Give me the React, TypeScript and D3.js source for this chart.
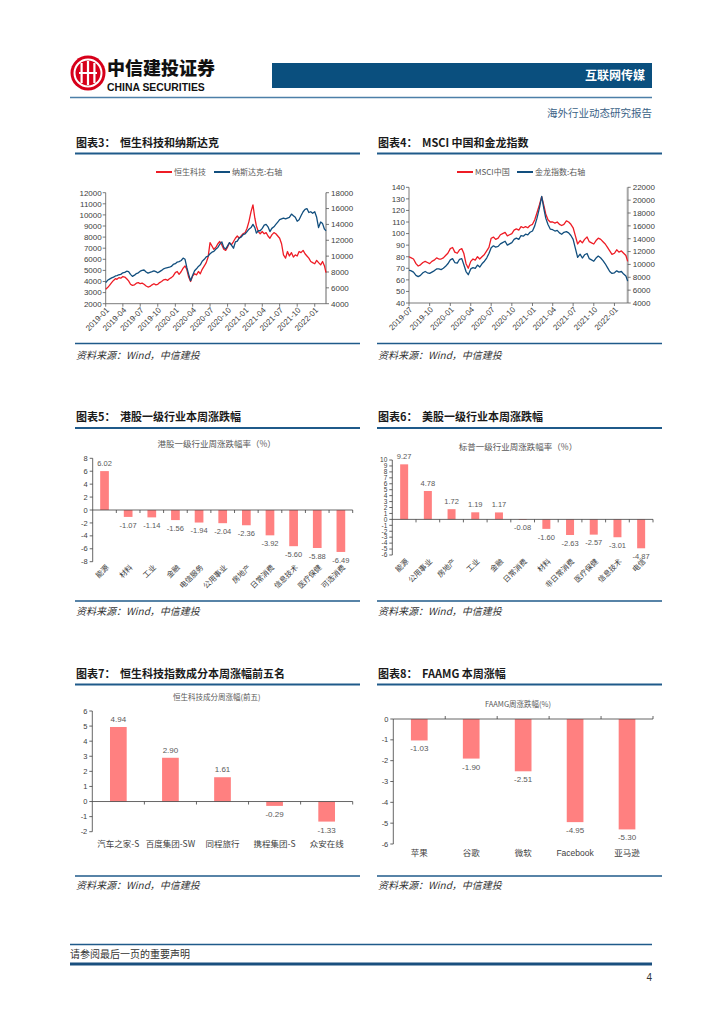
import React from "react";
import * as d3 from "d3";

const FONT = '"Noto Sans CJK SC", "Noto Sans", sans-serif';
const LATIN = '"Liberation Sans", Arial, sans-serif';
const RED = "#EE1C25";
const BLUE = "#124F7E";
const BAR = "#FF8080";
const RULE = "#1F5A8A";

// ---------- Chart 3: 恒生科技 & 纳斯达克 (3 samples per month: 1st, 11th, 21st) ----------
const c3Start: [number, number] = [2019, 0];
const hstechValues = [
  3300, 3450, 3650, 3900, 4100, 4250, 4200, 4350, 4300, 4450, 4400, 4250,
  4050, 3750, 3650, 3700, 3850, 3900, 3800, 3850, 3750, 3600, 3500, 3550,
  3700, 3800, 3700, 3750, 3900, 4000, 4150, 4200, 4100, 4250, 4350, 4500,
  4800, 4900, 4650, 4900, 5200, 5400, 5100, 4400, 4000, 4500, 4700, 4600,
  4900, 4700, 5100, 5400, 5700, 6200, 7500, 7200, 6900, 7100, 7400, 7600,
  7300, 6900, 6800, 7100, 7500, 7300, 7600, 7900, 8100, 7900, 8100, 8300,
  8400, 8800, 9400, 10300, 10900, 9700, 9000, 8500, 8300, 8500, 8300, 8400,
  8100, 7900, 8200, 8400, 8300, 8100, 7900, 7400, 6400, 6100, 6700, 6300,
  6600, 6200, 6400, 6300, 6700, 6600, 6800, 6500, 6300, 6100, 5800, 5700,
  5600, 5900, 5700, 5500, 5800, 5400, 4800,
];
const nasdaqValues = [
  6650, 6950, 7100, 7250, 7350, 7500, 7550, 7650, 7700, 7900, 7950, 8100,
  8050, 7700, 7450, 7600, 7800, 7900, 8100, 8200, 8250, 8000, 7850, 7950,
  8050, 8150, 8050, 7900, 8050, 8200, 8400, 8500, 8550, 8600, 8700, 8950,
  9050, 9250, 9300, 9450, 9750, 9600, 8600, 7700, 6900, 7600, 8150, 8400,
  8700, 8900, 9350, 9600, 9900, 10000, 10300, 10500, 10600, 10900, 11100, 11500,
  11800, 11100, 10900, 11300, 11700, 11400, 11000, 11800, 11900, 12300, 12400, 12700,
  12800, 13100, 13400, 13600, 14000, 13600, 12900, 13200, 13200, 13500, 13900, 14000,
  13700, 13100, 13500, 13700, 14000, 14300, 14600, 14700, 14800, 14700, 14800, 14900,
  15300, 15100, 14900, 14400, 14600, 15100, 15600, 15900, 16000, 15500, 15600, 15400,
  15600, 14900, 13600, 14300, 14100, 13400, 13200,
];
const c3XTicks = ["2019-01", "2019-04", "2019-07", "2019-10", "2020-01", "2020-04", "2020-07", "2020-10", "2021-01", "2021-04", "2021-07", "2021-10", "2022-01"];
const c3LeftTicks = [2000, 3000, 4000, 5000, 6000, 7000, 8000, 9000, 10000, 11000, 12000];
const c3RightTicks = [4000, 6000, 8000, 10000, 12000, 14000, 16000, 18000];

// ---------- Chart 4: MSCI中国 & 金龙指数 ----------
const c4Start: [number, number] = [2019, 6];
const msciValues = [
  80, 79, 78, 74, 72, 73, 75, 76, 75, 74, 76, 77,
  79, 78, 78, 79, 81, 83, 87, 88, 84, 83, 86, 87,
  83, 74, 70, 76, 78, 77, 80, 78, 80, 82, 85, 88,
  96, 97, 95, 96, 99, 100, 101, 98, 99, 100, 103, 104,
  103, 106, 105, 106, 105, 107, 108, 112, 118, 125, 132, 124,
  117, 112, 110, 110, 109, 110, 108, 107, 108, 111, 110, 108,
  105, 98, 91, 94, 92, 95, 97, 93, 92, 91, 94, 96,
  95, 93, 91, 88, 85, 82, 83, 86, 84, 85, 83, 81, 76,
];
const goldenDragonValues = [
  9100, 9000, 8800, 8300, 8100, 8300, 8700, 8900, 8700, 8600, 8800, 9000,
  9300, 9300, 9200, 9400, 9700, 10100, 10700, 10900, 10300, 10200, 10800, 10900,
  10000, 8900, 8400, 9300, 9500, 9400, 9900, 9600, 10100, 10500, 11000, 11700,
  12600, 12900, 12700, 12800, 13200, 13400, 13600, 13000, 13200, 13400, 13900, 14100,
  13900, 14500, 14400, 14700, 14600, 15000, 15200, 16000, 17200, 18800, 20600, 18600,
  17200, 16200, 15500, 15400, 15200, 15300, 14900, 14700, 15000, 15100, 14900, 14500,
  13900, 12500, 11100, 11600, 11000, 11500, 11700, 10900, 10700, 10500, 11000, 11300,
  11000, 10600, 10100, 9500, 8900, 8600, 8700, 9000, 8800, 8900, 8500, 8200, 7400,
];
const c4XTicks = ["2019-07", "2019-10", "2020-01", "2020-04", "2020-07", "2020-10", "2021-01", "2021-04", "2021-07", "2021-10", "2022-01"];
const c4LeftTicks = [40, 50, 60, 70, 80, 90, 100, 110, 120, 130, 140];
const c4RightTicks = [4000, 6000, 8000, 10000, 12000, 14000, 16000, 18000, 20000, 22000];

// ---------- Chart 5: 港股一级行业 ----------
const c5Categories = ["能源", "材料", "工业", "金融", "电信服务", "公用事业", "房地产", "日常消费", "信息技术", "医疗保健", "可选消费"];
const c5Values = [6.02, -1.07, -1.14, -1.56, -1.94, -2.04, -2.36, -3.92, -5.6, -5.88, -6.49];
const c5Ticks = [-8, -6, -4, -2, 0, 2, 4, 6, 8];

// ---------- Chart 6: 美股一级行业 ----------
const c6Categories = ["能源", "公用事业", "房地产", "工业", "金融", "日常消费", "材料", "非日常消费", "医疗保健", "信息技术", "电信"];
const c6Values = [9.27, 4.78, 1.72, 1.19, 1.17, -0.08, -1.6, -2.63, -2.57, -3.01, -4.87];
const c6Ticks = [-6, -5, -4, -3, -2, -1, 0, 1, 2, 3, 4, 5, 6, 7, 8, 9, 10];

// ---------- Chart 7: 恒生科技成分前五 ----------
const c7Categories = ["汽车之家-S", "百度集团-SW", "同程旅行", "携程集团-S", "众安在线"];
const c7Values = [4.94, 2.9, 1.61, -0.29, -1.33];
const c7Ticks = [-2, -1, 0, 1, 2, 3, 4, 5, 6];

// ---------- Chart 8: FAAMG ----------
const c8Categories = ["苹果", "谷歌", "微软", "Facebook", "亚马逊"];
const c8Values = [-1.03, -1.9, -2.51, -4.95, -5.3];
const c8Ticks = [-6, -5, -4, -3, -2, -1, 0];

const parseMonth = d3.timeParse("%Y-%m");

function sampleDates(start: [number, number], n: number): Date[] {
  const days = [1, 11, 21];
  const out: Date[] = [];
  for (let i = 0; i < n; i++) out.push(new Date(start[0], start[1] + Math.floor(i / 3), days[i % 3]));
  return out;
}

type LineProps = {
  x0: number; x1: number; y0: number; y1: number;
  start: [number, number]; end: string;
  s1: number[]; s2: number[];
  leftDomain: [number, number]; leftTicks: number[];
  rightDomain: [number, number]; rightTicks: number[];
  xTicks: string[];
  legend: [string, string];
  legendX: [number, number];
  legendY: number;
  rightAxisColor: string; rightAxisWidth: number;
};

function LineChart(p: LineProps) {
  const dates = sampleDates(p.start, p.s1.length);
  const x = d3.scaleTime().domain([new Date(p.start[0], p.start[1], 1), parseMonth(p.end) as Date]).range([p.x0, p.x1]);
  const yl = d3.scaleLinear().domain(p.leftDomain).range([p.y1, p.y0]);
  const yr = d3.scaleLinear().domain(p.rightDomain).range([p.y1, p.y0]);
  const l1 = d3.line<number>().x((_, i) => x(dates[i])).y((d) => yl(d));
  const l2 = d3.line<number>().x((_, i) => x(dates[i])).y((d) => yr(d));
  const fs = 8;
  return (
    <g fontFamily={LATIN} fontSize={fs} fill="#404040">
      <line x1={p.legendX[0]} x2={p.legendX[0] + 16} y1={p.legendY} y2={p.legendY} stroke={RED} strokeWidth={2} />
      <text x={p.legendX[0] + 18} y={p.legendY + 3} fontFamily={FONT} fill="#595959" fontSize={8}>{p.legend[0]}</text>
      <line x1={p.legendX[1]} x2={p.legendX[1] + 16} y1={p.legendY} y2={p.legendY} stroke={BLUE} strokeWidth={2} />
      <text x={p.legendX[1] + 18} y={p.legendY + 3} fontFamily={FONT} fill="#595959" fontSize={8}>{p.legend[1]}</text>
      <line x1={p.x0} x2={p.x0} y1={p.y0} y2={p.y1} stroke="#595959" strokeWidth={0.8} />
      <line x1={p.x1} x2={p.x1} y1={p.y0} y2={p.y1} stroke={p.rightAxisColor} strokeWidth={p.rightAxisWidth} />
      <line x1={p.x0} x2={p.x1} y1={p.y1} y2={p.y1} stroke="#595959" strokeWidth={0.8} />
      {p.leftTicks.map((t) => (
        <g key={"l" + t}>
          <line x1={p.x0 - 3} x2={p.x0} y1={yl(t)} y2={yl(t)} stroke="#595959" strokeWidth={0.8} />
          <text x={p.x0 - 4} y={yl(t)} dy="0.35em" textAnchor="end">{t}</text>
        </g>
      ))}
      {p.rightTicks.map((t) => (
        <g key={"r" + t}>
          <line x1={p.x1} x2={p.x1 + 3} y1={yr(t)} y2={yr(t)} stroke="#595959" strokeWidth={0.8} />
          <text x={p.x1 + 5} y={yr(t)} dy="0.35em" textAnchor="start">{t}</text>
        </g>
      ))}
      {p.xTicks.map((t) => {
        const xx = x(parseMonth(t) as Date);
        return (
          <g key={"x" + t}>
            <line x1={xx} x2={xx} y1={p.y1} y2={p.y1 + 3} stroke="#595959" strokeWidth={0.8} />
            <text transform={`translate(${xx + 2},${p.y1 + 5}) rotate(-45)`} textAnchor="end" dy="0.35em">{t}</text>
          </g>
        );
      })}
      <path d={l1(p.s1) || ""} fill="none" stroke={RED} strokeWidth={1.3} strokeLinejoin="round" />
      <path d={l2(p.s2) || ""} fill="none" stroke={BLUE} strokeWidth={1.3} strokeLinejoin="round" />
    </g>
  );
}

type BarProps = {
  x0: number; x1: number; y0: number; y1: number;
  domain: [number, number]; ticks: number[];
  cats: string[]; vals: number[];
  barW: number; tickFs: number; valueFs: number;
  rotated: boolean; catY: number;
  title: string; titleX: number; titleY: number; titleFs: number;
  tickDir: number;
};

function BarChart(p: BarProps) {
  const y = d3.scaleLinear().domain(p.domain).range([p.y1, p.y0]);
  const x = d3.scaleBand<string>().domain(p.cats).range([p.x0, p.x1]).padding(0);
  const bw = x.bandwidth();
  const zero = y(0);
  return (
    <g fontFamily={LATIN} fill="#404040">
      <text x={p.titleX} y={p.titleY} textAnchor="middle" fontFamily={FONT} fontSize={p.titleFs} fill="#595959">{p.title}</text>
      {p.cats.map((c, i) => {
        const v = p.vals[i];
        const cx = (x(c) as number) + bw / 2;
        const top = Math.min(y(v), zero);
        const h = Math.abs(y(v) - zero);
        return (
          <g key={c}>
            <rect x={cx - p.barW / 2} y={top} width={p.barW} height={Math.max(h, 0.6)} fill={BAR} />
            <text x={cx} y={v >= 0 ? y(v) - 5 : y(v) + 5} dy={v >= 0 ? "0" : "0.75em"} textAnchor="middle" fontSize={p.valueFs} fill="#595959">
              {v.toFixed(2)}
            </text>
            {p.rotated ? (
              <text transform={`translate(${cx + 3},${p.catY}) rotate(-45)`} textAnchor="end" dy="0.35em" fontFamily={FONT} fontSize={7.5} fill="#404040">{c}</text>
            ) : (
              <text x={cx} y={p.catY} textAnchor="middle" fontFamily={c === "Facebook" ? LATIN : FONT} fontSize={8.5} fill="#404040">{c}</text>
            )}
          </g>
        );
      })}
      <line x1={p.x0} x2={p.x0} y1={p.y0} y2={p.y1} stroke="#404040" strokeWidth={0.8} />
      {p.ticks.map((t) => (
        <g key={"t" + t}>
          <line x1={p.x0 - 3} x2={p.x0} y1={y(t)} y2={y(t)} stroke="#404040" strokeWidth={0.8} />
          <text x={p.x0 - 5} y={y(t)} dy="0.35em" textAnchor="end" fontSize={p.tickFs}>{t}</text>
        </g>
      ))}
      <line x1={p.x0} x2={p.x1} y1={zero} y2={zero} stroke="#404040" strokeWidth={0.8} />
      {p.cats.map((c, i) => {
        const bx = (x(c) as number) + bw;
        return <line key={"k" + i} x1={bx} x2={bx} y1={zero} y2={zero + 3 * p.tickDir} stroke="#404040" strokeWidth={0.8} />;
      })}
    </g>
  );
}

function Panel({ x, w, titleY, label, title, lineY, bottomY, srcY }: { x: number; w: number; titleY: number; label: string; title: string; lineY: number; bottomY: number; srcY: number }) {
  return (
    <g fontFamily={FONT}>
      <text x={x + 1} y={titleY} fontSize={11} fontWeight={700} fill="#1a1a1a">{label}</text>
      <text x={x + 45} y={titleY} fontSize={11} fontWeight={700} fill="#1a1a1a">{title}</text>
      <line x1={x} x2={x + w} y1={lineY} y2={lineY} stroke={RULE} strokeWidth={2} />
      <line x1={x} x2={x + w} y1={bottomY} y2={bottomY} stroke={RULE} strokeWidth={1.5} />
      <text x={x + 1} y={srcY} fontSize={10} fontStyle="italic" fill="#333">资料来源：Wind，中信建投</text>
    </g>
  );
}

export default function App() {
  return (
    <svg width={724} height={1024} viewBox="0 0 724 1024" style={{ position: "absolute", left: 0, top: 0, background: "#fff" }}>
      <rect width={724} height={1024} fill="#fff" />
      <g>
        <circle cx={88} cy={73} r={17.5} fill="#D7001A" />
        <circle cx={88} cy={73} r={13.5} fill="none" stroke="#fff" strokeWidth={2} />
        <rect x={80.5} y={63} width={2.2} height={20} fill="#fff" />
        <rect x={86.9} y={61} width={2.2} height={24} fill="#fff" />
        <rect x={93.3} y={63} width={2.2} height={20} fill="#fff" />
        <rect x={79} y={72} width={18} height={2} fill="#fff" />
        <text x={107} y={75} fontFamily={FONT} fontSize={18} fontWeight={900} fill="#111">中信建投证券</text>
        <text x={107} y={91} fontFamily={LATIN} fontSize={10.4} fontWeight={700} fill="#111">CHINA SECURITIES</text>
        <rect x={272} y={63} width={380} height={25} fill="#0A4F7E" />
        <text x={645} y={80} textAnchor="end" fontFamily={FONT} fontSize={12} fontWeight={700} fill="#fff">互联网传媒</text>
        <line x1={70} x2={652} y1={97.5} y2={97.5} stroke="#4D7FA8" strokeWidth={1.5} />
        <text x={652} y={117} textAnchor="end" fontFamily={FONT} fontSize={10.5} fill="#3A6186">海外行业动态研究报告</text>
      </g>

      <Panel x={75} w={285} titleY={147} label="图表3：" title="恒生科技和纳斯达克" lineY={153.5} bottomY={343.5} srcY={359} />
      <Panel x={377} w={285} titleY={147} label="图表4：" title="MSCI 中国和金龙指数" lineY={153.5} bottomY={343.5} srcY={359} />
      <Panel x={75} w={285} titleY={421} label="图表5：" title="港股一级行业本周涨跌幅" lineY={428} bottomY={601} srcY={615} />
      <Panel x={377} w={285} titleY={421} label="图表6：" title="美股一级行业本周涨跌幅" lineY={428} bottomY={601} srcY={615} />
      <Panel x={75} w={285} titleY={678} label="图表7：" title="恒生科技指数成分本周涨幅前五名" lineY={684.5} bottomY={876} srcY={889} />
      <Panel x={377} w={285} titleY={678} label="图表8：" title="FAAMG 本周涨幅" lineY={684.5} bottomY={876} srcY={889} />

      <LineChart
        x0={105.7} x1={326} y0={192.7} y1={303.7}
        start={c3Start} end="2022-03"
        s1={hstechValues} s2={nasdaqValues}
        leftDomain={[2000, 12000]} leftTicks={c3LeftTicks}
        rightDomain={[4000, 18000]} rightTicks={c3RightTicks}
        xTicks={c3XTicks}
        legend={["恒生科技", "纳斯达克:右轴"]}
        legendX={[156, 214]} legendY={172}
        rightAxisColor="#404040" rightAxisWidth={0.8}
      />
      <LineChart
        x0={409} x1={627.7} y0={187.3} y1={303}
        start={c4Start} end="2022-03"
        s1={msciValues} s2={goldenDragonValues}
        leftDomain={[40, 140]} leftTicks={c4LeftTicks}
        rightDomain={[4000, 22000]} rightTicks={c4RightTicks}
        xTicks={c4XTicks}
        legend={["MSCI中国", "金龙指数:右轴"]}
        legendX={[457, 517]} legendY={172}
        rightAxisColor="#A6A6A6" rightAxisWidth={2}
      />

      <BarChart
        x0={92.7} x1={352.7} y0={458.3} y1={561.7}
        domain={[-8, 8]} ticks={c5Ticks}
        cats={c5Categories} vals={c5Values}
        barW={8.7} tickFs={7.5} valueFs={7.5}
        rotated={true} catY={566}
        title="港股一级行业周涨跌幅率（%）" titleX={216.7} titleY={447} titleFs={8.5}
        tickDir={1}
      />
      <BarChart
        x0={392.3} x1={653} y0={460} y1={555}
        domain={[-6, 10]} ticks={c6Ticks}
        cats={c6Categories} vals={c6Values}
        barW={8} tickFs={6.5} valueFs={7.5}
        rotated={true} catY={560}
        title="标普一级行业周涨跌幅率（%）" titleX={518} titleY={450} titleFs={8.5}
        tickDir={1}
      />
      <BarChart
        x0={92.3} x1={352.7} y0={711} y1={831.7}
        domain={[-2, 6]} ticks={c7Ticks}
        cats={c7Categories} vals={c7Values}
        barW={16.7} tickFs={7.5} valueFs={8}
        rotated={false} catY={847}
        title="恒生科技成分周涨幅(前五)" titleX={216.7} titleY={700} titleFs={7.5}
        tickDir={1}
      />
      <BarChart
        x0={393.3} x1={653} y0={719} y1={844}
        domain={[-6, 0]} ticks={c8Ticks}
        cats={c8Categories} vals={c8Values}
        barW={16.7} tickFs={7.5} valueFs={8}
        rotated={false} catY={856}
        title="FAAMG周涨跌幅(%)" titleX={518} titleY={707} titleFs={7.5}
        tickDir={-1}
      />

      <line x1={70} x2={652} y1={944.5} y2={944.5} stroke={RULE} strokeWidth={1.5} />
      <text x={70} y={958} fontFamily={FONT} fontSize={10} fill="#333">请参阅最后一页的重要声明</text>
      <line x1={70} x2={652} y1={964} y2={964} stroke="#1A4F7E" strokeWidth={3} />
      <text x={652} y={981} textAnchor="end" fontFamily={LATIN} fontSize={10} fill="#333">4</text>
    </svg>
  );
}
